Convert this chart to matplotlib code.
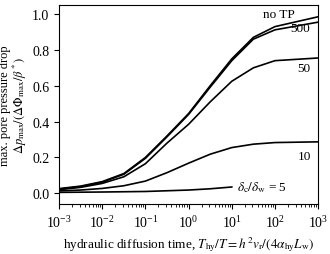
import numpy as np
import matplotlib
matplotlib.use("Agg")
import matplotlib.pyplot as plt
from matplotlib.ticker import LogLocator, NullFormatter

plt.rcParams['font.family'] = ['Liberation Serif', 'DejaVu Serif']
plt.rcParams['mathtext.fontset'] = 'stix'
plt.rcParams['font.size'] = 9

# log10 of hydraulic diffusion time
log_t = [-3, -2.5, -2, -1.5, -1, -0.5, 0, 0.5, 1, 1.5, 2, 3]

no_tp = [0.026, 0.040, 0.065, 0.110, 0.200, 0.320, 0.445, 0.600, 0.750, 0.870, 0.930, 0.985]
r500 = [0.023, 0.037, 0.062, 0.106, 0.195, 0.315, 0.440, 0.592, 0.740, 0.860, 0.912, 0.955]
r50 = [0.020, 0.033, 0.055, 0.092, 0.165, 0.280, 0.385, 0.510, 0.625, 0.700, 0.740, 0.755]
r10 = [0.013, 0.018, 0.027, 0.042, 0.068, 0.115, 0.168, 0.218, 0.255, 0.274, 0.283, 0.287]
log_t5 = [-3, -2, -1, 0, 0.5, 1]
r5 = [0.005, 0.007, 0.010, 0.018, 0.025, 0.035]

labels = ["no TP", "500", "50", "10", r"$\delta_\mathrm{c}/\delta_\mathrm{w}$ = 5"]
label_pos = [(2.09, 1.0), (2.58, 0.92), (2.67, 0.70), (2.69, 0.21), (1.71, 0.035)]

fig = plt.figure(figsize=(3.3, 2.55), dpi=100)
ax = fig.add_axes([0.179, 0.196, 0.785, 0.780])

t = 10.0 ** np.array(log_t)
for vals in [no_tp, r500, r50, r10]:
    ax.plot(t, vals, color='black', lw=1.2)
ax.plot(10.0 ** np.array(log_t5), r5, color='black', lw=1.2)

for txt, (lx, ly) in zip(labels, label_pos):
    ax.text(10 ** lx, ly, txt, ha='center', va='center', fontsize=9.5)

ax.set_xscale('log')
ax.set_xlim(1e-3, 1e3)
ax.set_ylim(-0.06, 1.05)
ax.set_yticks([0.0, 0.2, 0.4, 0.6, 0.8, 1.0])
ax.xaxis.set_major_locator(LogLocator(base=10, numticks=10))
ax.xaxis.set_minor_locator(LogLocator(base=10, subs=np.arange(2, 10), numticks=20))
ax.xaxis.set_minor_formatter(NullFormatter())
ax.tick_params(which='major', direction='out', length=3.5, width=0.8, labelsize=10)
ax.tick_params(which='minor', direction='out', length=2, width=0.6)

ax.set_xlabel(r"hydraulic diffusion time, $T_\mathrm{hy}/T = h^2 v_\mathrm{r}/(4\alpha_\mathrm{hy} L_\mathrm{w})$",
              fontsize=9.5, labelpad=3)
ax.set_ylabel("max. pore pressure drop\n" + r"$\Delta p_\mathrm{max}/(\Delta\Phi_\mathrm{max}/\beta^*)$",
              fontsize=9, linespacing=0.95)
ax.yaxis.set_label_coords(-0.118, 0.5)

fig.savefig("out.png", dpi=100)
